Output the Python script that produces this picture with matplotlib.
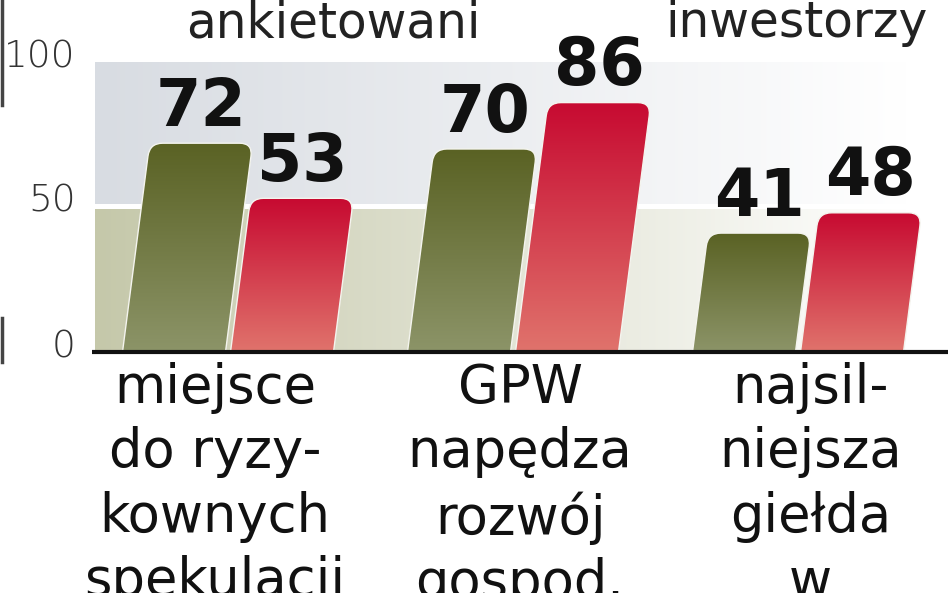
import numpy as np
import matplotlib
matplotlib.use("Agg")
import matplotlib.pyplot as plt
from matplotlib.path import Path
from matplotlib.patches import PathPatch
from matplotlib.colors import to_rgb
from matplotlib import font_manager
import matplotlib.transforms as mtransforms

# dane
categories = ["miejsce\ndo ryzy-\nkownych\nspekulacji",
              "GPW\nnapędza\nrozwój\ngospod.",
              "najsil-\nniejsza\ngiełda\nw"]
ankietowani = [72, 70, 41]
inwestorzy = [53, 86, 48]
series_names = ["ankietowani", "inwestorzy"]
yticks = [0, 50, 100]

plt.rcParams['font.family'] = ['DejaVu Sans']

installed = {f.name for f in font_manager.fontManager.ttflist}
narrow = next((n for n in ["Liberation Sans Narrow", "DejaVu Sans Condensed"]
               if n in installed), None)

W, H = 948, 593
fig = plt.figure(figsize=(W / 100, H / 100), dpi=100)
ax = fig.add_axes([95 / W, (H - 352) / H, (W - 95) / W, 290 / H])

group_px = 285.0
px_y = 2.9
xmin, xmax = -133 / group_px, (W - 95 - 133) / group_px
bw = 103 / group_px
gap = 5 / group_px
k = 0.13 * px_y / group_px     # pochylenie słupków
rx, ry = 13 / group_px, 13 / px_y


def white_mix(c, t):
    c = np.array(to_rgb(c))
    return c * (1 - t) + np.ones(3) * t


# tło z gradientem
xs = np.linspace(0, 1, 256)
for (y0, y1, col) in [(51, 100, "#d8dce2"), (0, 49.3, "#c5c8aa")]:
    img = np.array([white_mix(col, min(1, t * 1.05)) for t in xs])[None, :, :]
    ax.imshow(img, extent=[xmin, xmax, y0, y1], aspect='auto', zorder=0,
              interpolation='bilinear')


def slanted_bar(x0, x1, h, top, bottom):
    verts = [(x0, 0), (x1, 0), (x1 + k * (h - ry), h - ry),
             (x1 + k * h, h), (x1 + k * h - rx, h),
             (x0 + k * h + rx, h), (x0 + k * h, h),
             (x0 + k * (h - ry), h - ry), (x0, 0)]
    codes = [Path.MOVETO, Path.LINETO, Path.LINETO,
             Path.CURVE3, Path.CURVE3,
             Path.LINETO, Path.CURVE3, Path.CURVE3, Path.CLOSEPOLY]
    patch = PathPatch(Path(verts, codes), facecolor='none',
                      edgecolor='#f4f4ee', lw=1.0, zorder=3)
    ax.add_patch(patch)
    grad = np.linspace(0, 1, 128)[:, None, None]
    img = np.array(to_rgb(top)) * (1 - grad) + np.array(to_rgb(bottom)) * grad
    im = ax.imshow(img, extent=[x0, x1 + k * h, 0, h], origin='upper',
                   aspect='auto', zorder=2, interpolation='bilinear')
    im.set_clip_path(patch)
    return x0 + k * h, x1 + k * h


for i in range(len(categories)):
    c = i
    a0, a1 = slanted_bar(c - gap / 2 - bw, c - gap / 2, ankietowani[i],
                         "#5a6224", "#8c9468")
    ax.text((a0 + a1) / 2, ankietowani[i] + 6.0, str(ankietowani[i]),
            ha='center', va='baseline', fontsize=47, fontweight='bold',
            color='#111111', zorder=4)
    b0, b1 = slanted_bar(c + gap / 2, c + gap / 2 + bw, inwestorzy[i],
                         "#c70a31", "#e0736c")
    ax.text((b0 + b1) / 2, inwestorzy[i] + 6.0, str(inwestorzy[i]),
            ha='center', va='baseline', fontsize=47, fontweight='bold',
            color='#111111', zorder=4)

# podpisy kategorii (ucięte u dołu, jak w oryginale)
label_shift = [-0.045, 0.025, 0.045]
for i, lab in enumerate(categories):
    ax.text(i + label_shift[i], -3.5, lab, ha='center', va='top',
            fontsize=38, color='#111111', linespacing=1.3, clip_on=False)

# linia bazowa
ax.plot([xmin - 3 / group_px, xmax], [0, 0], color='#111111', lw=3,
        solid_capstyle='butt', clip_on=False, zorder=5)

# oś y
ax.set_yticks(yticks)
ax.set_yticklabels([str(t) for t in yticks], fontsize=27, color='#333333',
                   fontweight='light')
ax.tick_params(axis='y', length=0, pad=14)
off = mtransforms.ScaledTranslation(0, 9 / 100, fig.dpi_scale_trans)
for lab in ax.get_yticklabels():
    lab.set_transform(lab.get_transform() + off)
ax.set_xticks([])
for s in ax.spines.values():
    s.set_visible(False)
ax.set_xlim(xmin, xmax)
ax.set_ylim(0, 100)

# nazwy serii u góry
top_kw = dict(ha='center', va='baseline', color='#222222')
if narrow:
    top_kw.update(family=[narrow, 'DejaVu Sans'], fontsize=43)
else:
    top_kw.update(fontsize=35)
fig.text(333 / W, 1 - 37 / H, series_names[0], **top_kw)
fig.text(797 / W, 1 - 37 / H, series_names[1], **top_kw)

# ciemna krawędź skanu po lewej
for y_top, y_bot in [(0, 105), (318, 362)]:
    fig.add_artist(plt.Line2D([1.5 / W, 1.5 / W], [1 - y_bot / H, 1 - y_top / H],
                              color='#444444', lw=2.5,
                              transform=fig.transFigure))

fig.savefig("out.png", dpi=100)
